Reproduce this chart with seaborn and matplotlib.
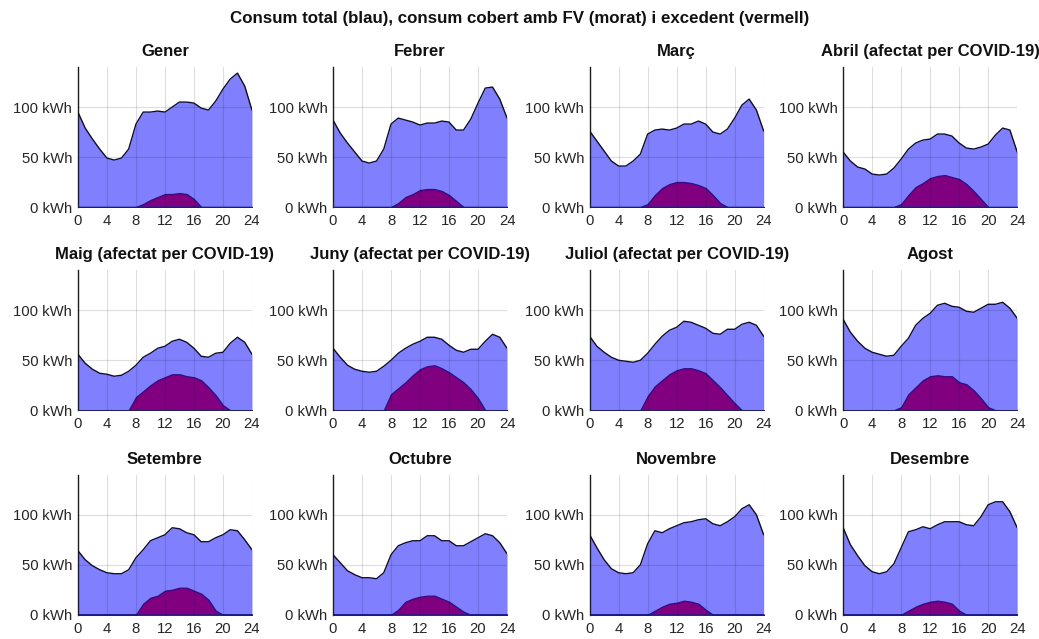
import matplotlib
matplotlib.use("Agg")
import matplotlib.pyplot as plt
import numpy as np
import pandas as pd
import seaborn as sns

hours = list(range(25))

months = ["Gener", "Febrer", "Març", "Abril (afectat per COVID-19)",
          "Maig (afectat per COVID-19)", "Juny (afectat per COVID-19)",
          "Juliol (afectat per COVID-19)", "Agost", "Setembre", "Octubre",
          "Novembre", "Desembre"]

# Consum total per hora (kWh)
consum_gener = [95, 79, 68, 58, 49, 47, 49, 58, 83, 95, 95, 96, 95, 100, 105, 105, 104, 99, 97, 106, 118, 128, 134, 121, 97]
consum_febrer = [87, 74, 64, 55, 46, 44, 46, 58, 83, 89, 87, 85, 82, 84, 84, 86, 85, 77, 77, 88, 104, 119, 120, 108, 89]
consum_marc = [76, 66, 56, 46, 41, 41, 46, 53, 73, 77, 78, 77, 79, 83, 83, 86, 83, 75, 73, 78, 89, 102, 108, 97, 76]
consum_abril = [55, 46, 40, 38, 33, 32, 33, 39, 48, 58, 64, 67, 68, 73, 73, 71, 64, 59, 58, 60, 63, 72, 79, 77, 55]
consum_maig = [56, 47, 41, 37, 36, 34, 35, 39, 45, 53, 57, 62, 64, 69, 71, 68, 62, 54, 53, 57, 58, 67, 73, 68, 56]
consum_juny = [62, 53, 45, 41, 39, 38, 39, 44, 50, 57, 62, 66, 69, 73, 73, 71, 65, 60, 58, 61, 61, 69, 76, 73, 62]
consum_juliol = [74, 64, 58, 53, 50, 49, 48, 50, 57, 66, 74, 80, 83, 89, 88, 85, 82, 77, 76, 81, 81, 86, 88, 85, 74]
consum_agost = [91, 78, 69, 62, 58, 56, 54, 55, 64, 72, 85, 92, 97, 105, 107, 104, 103, 99, 98, 102, 106, 106, 108, 102, 92]
consum_setembre = [64, 55, 49, 45, 42, 41, 41, 45, 57, 65, 74, 77, 80, 87, 86, 82, 80, 73, 73, 77, 80, 85, 84, 75, 65]
consum_octubre = [60, 52, 44, 40, 37, 37, 36, 42, 60, 69, 72, 74, 74, 79, 79, 74, 74, 69, 69, 73, 77, 81, 79, 72, 61]
consum_novembre = [80, 67, 55, 46, 42, 41, 42, 50, 71, 84, 82, 86, 89, 92, 93, 95, 96, 91, 89, 93, 98, 106, 110, 100, 80]
consum_desembre = [87, 70, 59, 49, 43, 41, 43, 51, 67, 83, 85, 88, 86, 90, 93, 93, 93, 90, 89, 98, 110, 113, 113, 103, 87]

# Consum cobert amb fotovoltaica per hora (kWh)
fv_gener = [0, 0, 0, 0, 0, 0, 0, 0, 0, 3, 7, 10, 13, 13, 14, 13, 8, 0, 0, 0, 0, 0, 0, 0, 0]
fv_febrer = [0, 0, 0, 0, 0, 0, 0, 0, 0, 4, 10, 13, 17, 18, 18, 16, 12, 6, 0, 0, 0, 0, 0, 0, 0]
fv_marc = [0, 0, 0, 0, 0, 0, 0, 0, 3, 12, 19, 23, 25, 25, 24, 22, 19, 12, 4, 0, 0, 0, 0, 0, 0]
fv_abril = [0, 0, 0, 0, 0, 0, 0, 0, 3, 12, 20, 24, 29, 31, 32, 30, 28, 23, 16, 8, 0, 0, 0, 0, 0]
fv_maig = [0, 0, 0, 0, 0, 0, 0, 0, 13, 19, 25, 30, 33, 36, 36, 34, 33, 30, 23, 15, 5, 0, 0, 0, 0]
fv_juny = [0, 0, 0, 0, 0, 0, 0, 0, 16, 22, 28, 35, 41, 44, 45, 42, 38, 33, 28, 21, 12, 0, 0, 0, 0]
fv_juliol = [0, 0, 0, 0, 0, 0, 0, 0, 14, 24, 30, 36, 40, 42, 42, 40, 37, 30, 23, 15, 7, 0, 0, 0, 0]
fv_agost = [0, 0, 0, 0, 0, 0, 0, 0, 3, 16, 23, 30, 34, 35, 34, 34, 28, 26, 20, 12, 3, 0, 0, 0, 0]
fv_setembre = [0, 0, 0, 0, 0, 0, 0, 0, 0, 11, 17, 19, 24, 25, 27, 27, 24, 21, 15, 4, 0, 0, 0, 0, 0]
fv_octubre = [0, 0, 0, 0, 0, 0, 0, 0, 0, 5, 13, 16, 18, 19, 19, 16, 13, 8, 3, 0, 0, 0, 0, 0, 0]
fv_novembre = [0, 0, 0, 0, 0, 0, 0, 0, 0, 4, 8, 11, 12, 14, 13, 11, 5, 0, 0, 0, 0, 0, 0, 0, 0]
fv_desembre = [0, 0, 0, 0, 0, 0, 0, 0, 0, 4, 8, 11, 13, 14, 13, 11, 4, 0, 0, 0, 0, 0, 0, 0, 0]

consum = [consum_gener, consum_febrer, consum_marc, consum_abril, consum_maig,
          consum_juny, consum_juliol, consum_agost, consum_setembre,
          consum_octubre, consum_novembre, consum_desembre]
fv = [fv_gener, fv_febrer, fv_marc, fv_abril, fv_maig, fv_juny, fv_juliol,
      fv_agost, fv_setembre, fv_octubre, fv_novembre, fv_desembre]

x_ticks = [0, 4, 8, 12, 16, 20, 24]
y_ticks = [0, 50, 100]
y_tick_labels = ["0 kWh", "50 kWh", "100 kWh"]

sns.set_theme(style="white")
plt.rcParams["font.family"] = ["Liberation Sans", "DejaVu Sans"]

fig = plt.figure(figsize=(10.39, 6.39), dpi=100)

lefts = [0.075, 0.3205, 0.5675, 0.8115]
width = 0.1675
bottoms = [0.676, 0.358, 0.038]
height = 0.219

blue = "#8080ff"
purple = "#800080"

for i, name in enumerate(months):
    r, c = divmod(i, 4)
    ax = fig.add_axes([lefts[c], bottoms[r], width, height])
    df = pd.DataFrame({"hora": hours, "consum": consum[i], "fv": fv[i]})

    ax.fill_between(df["hora"], 0, df["consum"], color=blue, linewidth=0, zorder=1)
    sns.lineplot(data=df, x="hora", y="consum", ax=ax, color="#111111",
                 linewidth=1.0, zorder=3)
    ax.fill_between(df["hora"], 0, df["fv"], facecolor=purple,
                    edgecolor="#1a1a8c", linewidth=1.0, zorder=2)

    ax.set_xlim(0, 24)
    ax.set_ylim(0, 140)
    ax.set_xticks(x_ticks)
    ax.set_yticks(y_ticks)
    ax.set_yticklabels(y_tick_labels)
    ax.set_xlabel("")
    ax.set_ylabel("")
    ax.grid(True, color="black", alpha=0.13, linewidth=0.8, zorder=4)
    ax.set_axisbelow(False)
    for s in ["top", "right", "bottom"]:
        ax.spines[s].set_visible(False)
    ax.spines["left"].set_color("#222222")
    ax.spines["left"].set_linewidth(1.0)
    ax.tick_params(axis="both", length=0, labelsize=10.7, colors="#262626")
    ax.tick_params(axis="x", pad=5)
    ax.tick_params(axis="y", pad=4)
    ax.set_title(name, fontsize=12, fontweight="bold", color="#111111", pad=8)

fig.suptitle("Consum total (blau), consum cobert amb FV (morat) i excedent (vermell)",
             fontsize=12.2, fontweight="bold", color="#111111", y=0.983)

fig.savefig("out.png", dpi=100)
